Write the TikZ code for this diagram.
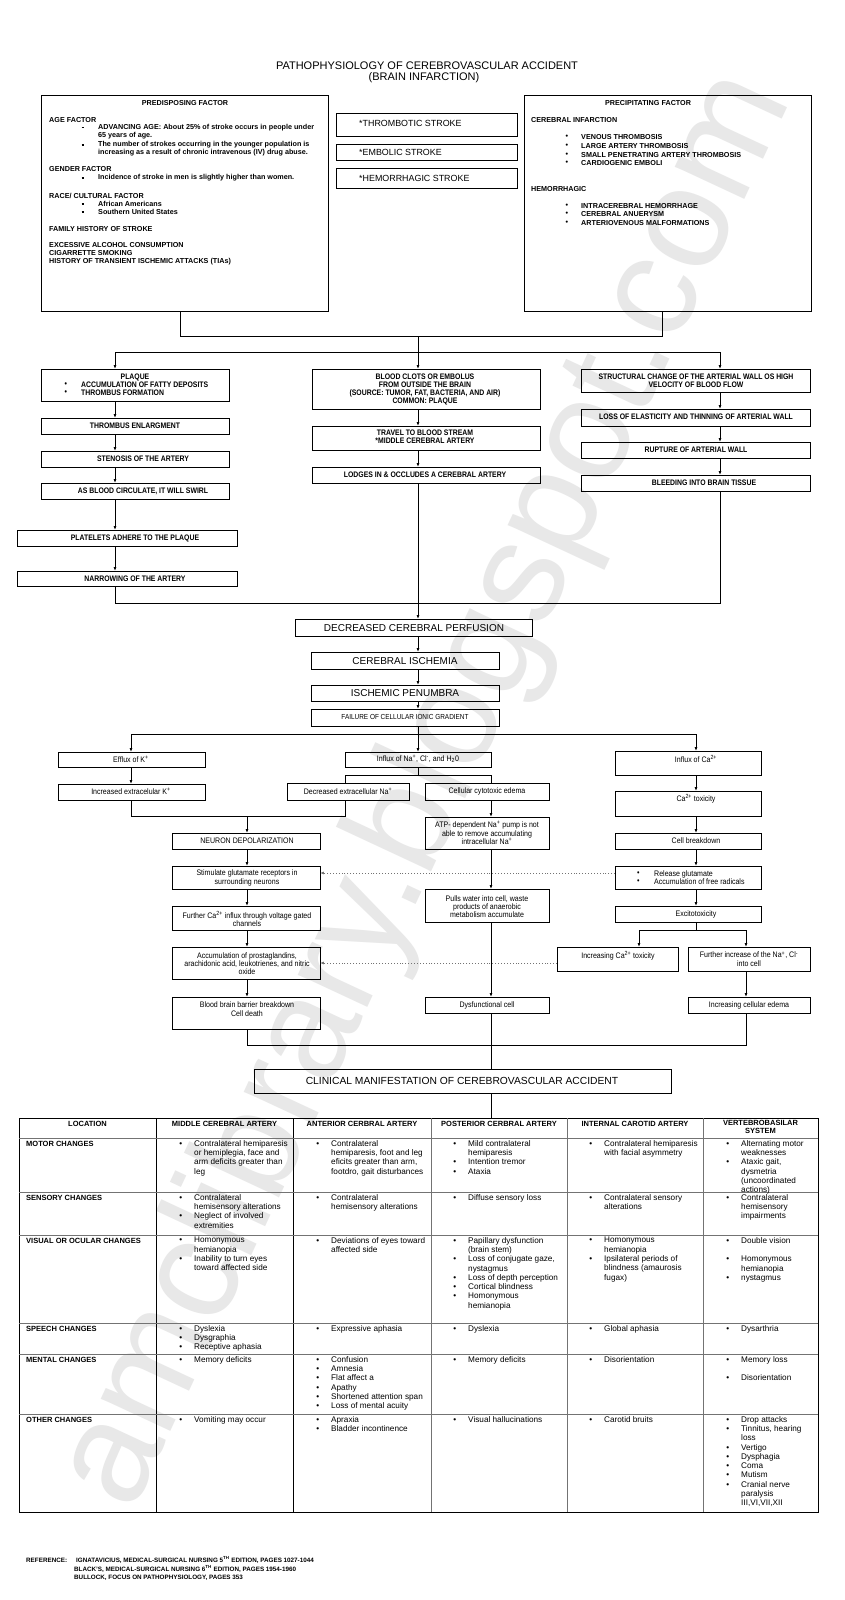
\documentclass[tikz,border=0pt]{standalone}
\usepackage{fontspec}
\setmainfont{Liberation Sans}
\newfontfamily\nar[FakeStretch=0.86]{Liberation Sans}
\newfontfamily\narr[FakeStretch=0.88]{Liberation Sans}
\usetikzlibrary{arrows.meta}
\newcounter{tn}
\newcommand\Tx[4][]{\stepcounter{tn}\node[#1] (t\arabic{tn}) at (#2,#3) {#4};}
\newcommand\Bx[5]{\node[bx, minimum width={#4-#2}, minimum height={#5-#3}] (#1) at (#2,#3) {};}
\newcommand\bul{\llap{\textbullet\hspace{12pt}}}
\newcommand\sqb{\rule[0.9pt]{2.6pt}{1.9pt}}
\begin{document}
\begin{tikzpicture}[x=1pt,y=-1pt,
 bx/.style={draw, line width=0.8pt, inner sep=0pt, outer sep=0pt, anchor=north west},
 ln/.style={line width=0.8pt},
 arr/.style={line width=0.8pt,-{Latex[length=3.8pt,width=2.8pt]}},
 dar/.style={line width=0.9pt, black!55, dotted, -{Latex[length=3.8pt,width=2.8pt]}},
 ttl/.style={font=\fontsize{11}{12}\selectfont, inner sep=0pt},
 stk/.style={font=\fontsize{8.9}{10}\selectfont, inner sep=0pt, anchor=west},
 tp/.style={font=\bfseries\fontsize{7.2}{8}\selectfont, inner sep=0pt, anchor=west},
 tpc/.style={tp, anchor=center},
 up/.style={font=\nar\bfseries\fontsize{8}{8}\selectfont, inner sep=0pt, align=center},
 upl/.style={up, anchor=west, align=left},
 lo/.style={font=\narr\fontsize{8}{8.3}\selectfont, inner sep=0pt, align=center},
 lol/.style={lo, anchor=west, align=left},
 big/.style={font=\fontsize{10}{12}\selectfont, inner sep=0pt},
 fl/.style={font=\narr\fontsize{7.3}{8}\selectfont, inner sep=0pt},
 cl/.style={font=\fontsize{10.3}{12}\selectfont, inner sep=0pt},
 th/.style={font=\bfseries\fontsize{7.5}{8}\selectfont, inner sep=0pt, align=center, anchor=north, execute at begin node=\strut},
 tl/.style={font=\bfseries\fontsize{7.5}{9.3}\selectfont, inner sep=0pt, anchor=north west, execute at begin node=\strut},
 tc/.style={font=\fontsize{8.2}{9.3}\selectfont, inner sep=0pt, align=left, anchor=north west, execute at begin node=\strut},
 rf/.style={font=\bfseries\fontsize{6.3}{8}\selectfont, inner sep=0pt, anchor=base west},
 wm/.style={font=\fontsize{145}{150}\selectfont, text=black!9, inner sep=0pt, rotate=65},
 tline/.style={line width=0.8pt, black!55}
]
\fill[white] (0,0) rectangle (844,1600);
\useasboundingbox (0,0) rectangle (844,1600);
\node[wm] (wmark) at (428,790) {amclibrary.blogspot.com};

% ---------- title ----------
\Tx[ttl]{427}{66}{PATHOPHYSIOLOGY OF CEREBROVASCULAR ACCIDENT}
\Tx[ttl]{424}{78}{(BRAIN INFARCTION)}

% ---------- top boxes ----------
\Bx{pre}{41}{95}{328}{311}
\Bx{prec}{524}{95}{811}{311}
\Bx{thr}{336}{113}{517}{136}
\Bx{emb}{336}{144}{517}{160}
\Bx{hem}{336}{168}{517}{188}
\Tx[stk]{359}{123.5}{*THROMBOTIC STROKE}
\Tx[stk]{359}{152.5}{*EMBOLIC STROKE}
\Tx[stk]{359}{178}{*HEMORRHAGIC STROKE}

\Tx[tpc]{185}{103}{PREDISPOSING FACTOR}
\Tx[tp]{49}{120}{AGE FACTOR}
\Tx[tp]{81.5}{128}{\sqb}
\Tx[tp]{98}{128}{ADVANCING AGE: About 25\% of stroke occurs in people under}
\Tx[tp]{98}{136}{65 years of age.}
\Tx[tp]{81.5}{145}{\sqb}
\Tx[tp]{98}{145}{The number of strokes occurring in the younger population is}
\Tx[tp]{98}{153}{increasing as a result of chronic intravenous (IV) drug abuse.}
\Tx[tp]{49}{169}{GENDER FACTOR}
\Tx[tp]{81.5}{178}{\sqb}
\Tx[tp]{98}{178}{Incidence of stroke in men is slightly higher than women.}
\Tx[tp]{49}{196}{RACE/ CULTURAL FACTOR}
\Tx[tp]{81.5}{204}{\sqb}
\Tx[tp]{98}{204}{African Americans}
\Tx[tp]{81.5}{212}{\sqb}
\Tx[tp]{98}{212}{Southern United States}
\Tx[tp]{49}{229}{FAMILY HISTORY OF STROKE}
\Tx[tp]{49}{245}{EXCESSIVE ALCOHOL CONSUMPTION}
\Tx[tp]{49}{253}{CIGARRETTE SMOKING}
\Tx[tp]{49}{262}{HISTORY OF TRANSIENT ISCHEMIC ATTACKS (TIAs)}

\Tx[tpc]{648}{103}{PRECIPITATING FACTOR}
\Tx[tp]{531}{120}{CEREBRAL INFARCTION}
\Tx[tp]{565.5}{137}{\textbullet}
\Tx[tp]{581}{137}{VENOUS THROMBOSIS}
\Tx[tp]{565.5}{146}{\textbullet}
\Tx[tp]{581}{146}{LARGE ARTERY THROMBOSIS}
\Tx[tp]{565.5}{155}{\textbullet}
\Tx[tp]{581}{155}{SMALL PENETRATING ARTERY THROMBOSIS}
\Tx[tp]{565.5}{163}{\textbullet}
\Tx[tp]{581}{163}{CARDIOGENIC EMBOLI}
\Tx[tp]{531}{189}{HEMORRHAGIC}
\Tx[tp]{565.5}{206}{\textbullet}
\Tx[tp]{581}{206}{INTRACEREBRAL HEMORRHAGE}
\Tx[tp]{565.5}{214}{\textbullet}
\Tx[tp]{581}{214}{CEREBRAL ANUERYSM}
\Tx[tp]{565.5}{223}{\textbullet}
\Tx[tp]{581}{223}{ARTERIOVENOUS MALFORMATIONS}

% ---------- column coordinates ----------
\coordinate (cL) at (115,0); \coordinate (cC) at (418,0); \coordinate (cR) at (720,0);
\coordinate (cP) at (180,0); \coordinate (cQ) at (662,0);
\coordinate (cK) at (131,0); \coordinate (cCa) at (696,0);
\coordinate (cN1) at (345,0); \coordinate (cN2) at (491,0);
\coordinate (cD) at (247,0); \coordinate (cI1) at (639,0); \coordinate (cI2) at (746,0);
\coordinate (h1) at (0,336); \coordinate (h2) at (0,352); \coordinate (h3) at (0,603);
\coordinate (h4) at (0,734); \coordinate (h5) at (0,775); \coordinate (h6) at (0,816);
\coordinate (h7) at (0,930); \coordinate (h8) at (0,1045);
\coordinate (yA) at (0,873); \coordinate (yB) at (0,963);

% ---------- upper flow ----------
\Bx{plq}{41.5}{369}{229}{401}
\Bx{thb}{41.5}{418}{229}{434}
\Bx{sten}{41.5}{451}{229}{467}
\Bx{swl}{41.5}{483}{229}{499}
\Bx{plt}{17}{530}{237}{546}
\Bx{nrw}{17}{571}{237}{586}
\Bx{clot}{312}{369}{540}{409}
\Bx{trv}{312}{426}{540}{450}
\Bx{ldg}{312}{467}{540}{483}
\Bx{str}{581}{369}{810}{392}
\Bx{los}{581}{409}{810}{426}
\Bx{rup}{581}{442}{810}{458}
\Bx{bld}{581}{475}{810}{491}

\Tx[up]{135}{377}{PLAQUE}
\Tx[upl]{64.5}{385}{\textbullet}
\Tx[upl]{81}{385}{ACCUMULATION OF FATTY DEPOSITS}
\Tx[upl]{64.5}{393}{\textbullet}
\Tx[upl]{81}{393}{THROMBUS FORMATION}
\Tx[up]{425}{389}{BLOOD CLOTS OR EMBOLUS\\FROM OUTSIDE THE BRAIN\\(SOURCE: TUMOR, FAT, BACTERIA, AND AIR)\\COMMON: PLAQUE}
\Tx[up]{696}{381}{STRUCTURAL CHANGE OF THE ARTERIAL WALL OS HIGH\\VELOCITY OF BLOOD FLOW}
\Tx[up]{135}{426}{THROMBUS ENLARGMENT}
\Tx[up]{143}{459}{STENOSIS OF THE ARTERY}
\Tx[up]{143}{491}{AS BLOOD CIRCULATE, IT WILL SWIRL}
\Tx[up]{135}{538}{PLATELETS ADHERE TO THE PLAQUE}
\Tx[up]{135}{579}{NARROWING OF THE ARTERY}
\Tx[up]{425}{437}{TRAVEL TO BLOOD STREAM\\*MIDDLE CEREBRAL ARTERY}
\Tx[up]{425}{475}{LODGES IN \& OCCLUDES A CEREBRAL ARTERY}
\Tx[up]{696}{417}{LOSS OF ELASTICITY AND THINNING OF ARTERIAL WALL}
\Tx[up]{696}{450}{RUPTURE OF ARTERIAL WALL}
\Tx[up]{704}{483}{BLEEDING INTO BRAIN TISSUE}

\draw[ln] (pre.south -| cP) -- (h1 -| cP) -- (h1 -| cQ) -- (prec.south -| cQ);
\draw[ln] (h1 -| cC) -- (h2 -| cC);
\draw[ln] (h2 -| cL) -- (h2 -| cR);
\draw[arr] (h2 -| cL) -- (plq.north -| cL);
\draw[arr] (h2 -| cC) -- (clot.north -| cC);
\draw[arr] (h2 -| cR) -- (str.north -| cR);
\draw[arr] (plq.south -| cL) -- (thb.north -| cL);
\draw[arr] (thb.south -| cL) -- (sten.north -| cL);
\draw[arr] (sten.south -| cL) -- (swl.north -| cL);
\draw[arr] (swl.south -| cL) -- (plt.north -| cL);
\draw[arr] (plt.south -| cL) -- (nrw.north -| cL);
\draw[arr] (clot.south -| cC) -- (trv.north -| cC);
\draw[arr] (trv.south -| cC) -- (ldg.north -| cC);
\draw[arr] (str.south -| cR) -- (los.north -| cR);
\draw[arr] (los.south -| cR) -- (rup.north -| cR);
\draw[arr] (rup.south -| cR) -- (bld.north -| cR);

% ---------- lower flow ----------
\Bx{dec}{295}{619}{532}{636}
\Bx{isc}{311}{652}{499}{669}
\Bx{pen}{311}{685}{499}{701}
\Bx{fail}{311}{709}{499}{726}
\Bx{efk}{58}{752}{205}{767}
\Bx{ina}{345}{752}{491}{767}
\Bx{ica}{615}{751}{761}{775}
\Bx{ink}{58}{784}{205}{800}
\Bx{dna}{287}{783}{409}{800}
\Bx{cyt}{425}{783}{549}{800}
\Bx{cat}{615}{791}{761}{816}
\Bx{atp}{425}{817}{549}{849}
\Bx{neu}{172}{833}{320}{849}
\Bx{cbk}{615}{833}{761}{849}
\Bx{stm}{172}{866}{320}{889}
\Bx{rel}{615}{866}{761}{889}
\Bx{pul}{425}{889}{549}{922}
\Bx{fca}{172}{906}{320}{930}
\Bx{exc}{615}{906}{761}{922}
\Bx{icb}{557}{947}{678}{971}
\Bx{fna}{688}{947}{810}{971}
\Bx{acc}{172}{947}{320}{979}
\Bx{bbb}{172}{997}{320}{1029}
\Bx{dys}{425}{997}{549}{1013}
\Bx{ede}{688}{997}{810}{1013}
\Bx{cln}{254}{1069}{671}{1093}

\Tx[big]{414}{628}{DECREASED CEREBRAL PERFUSION}
\Tx[big]{405}{661}{CEREBRAL ISCHEMIA}
\Tx[big]{405}{693.5}{ISCHEMIC PENUMBRA}
\Tx[fl]{405}{717}{FAILURE OF CELLULAR IONIC GRADIENT}
\Tx[lo]{131}{759}{Efflux of K\textsuperscript{+}}
\Tx[lo]{418}{759}{Influx of Na\textsuperscript{+}, Cl\textsuperscript{-}, and H\textsubscript{2}0}
\Tx[lo]{696}{759}{Influx of Ca\textsuperscript{2+}}
\Tx[lo]{131}{791}{Increased extracelular K\textsuperscript{+}}
\Tx[lo]{348}{791}{Decreased extracellular Na\textsuperscript{+}}
\Tx[lo]{487}{791}{Cellular cytotoxic edema}
\Tx[lo]{696}{799}{Ca\textsuperscript{2+} toxicity}
\Tx[lo]{487}{833}{ATP- dependent Na\textsuperscript{+} pump is not\\able to remove accumulating\\intracellular Na\textsuperscript{+}}
\Tx[lo]{247}{841}{NEURON DEPOLARIZATION}
\Tx[lo]{696}{841}{Cell breakdown}
\Tx[lo]{247}{878}{Stimulate glutamate receptors in\\surrounding neurons}
\Tx[lol]{637}{874}{\textbullet}
\Tx[lol]{654}{874}{Release glutamate}
\Tx[lol]{637}{882}{\textbullet}
\Tx[lol]{654}{882}{Accumulation of free radicals}
\Tx[lo]{487}{906.5}{Pulls water into cell, waste\\products of anaerobic\\metabolism accumulate}
\Tx[lo]{247}{919}{Further Ca\textsuperscript{2+} influx through voltage gated\\channels}
\Tx[lo]{696}{914.5}{Excitotoxicity}
\Tx[lo]{618}{956}{Increasing Ca\textsuperscript{2+} toxicity}
\Tx[lo]{749}{959}{Further increase of the Na\textsuperscript{+}, Cl\textsuperscript{-}\\into cell}
\Tx[lo]{247}{963.5}{Accumulation of prostaglandins,\\arachidonic acid, leukotrienes, and nitric\\oxide}
\Tx[lo]{247}{1009}{Blood brain barrier breakdown\\Cell death}
\Tx[lo]{487}{1005}{Dysfunctional cell}
\Tx[lo]{749}{1005}{Increasing cellular edema}
\Tx[cl]{462}{1081}{CLINICAL MANIFESTATION OF CEREBROVASCULAR ACCIDENT}

\draw[ln] (nrw.south -| cL) -- (h3 -| cL) -- (h3 -| cR) -- (bld.south -| cR);
\draw[arr] (ldg.south -| cC) -- (dec.north -| cC);
\draw[arr] (dec.south -| cC) -- (isc.north -| cC);
\draw[arr] (isc.south -| cC) -- (pen.north -| cC);
\draw[arr] (pen.south -| cC) -- (fail.north -| cC);
\draw[ln] (fail.south -| cC) -- (h4 -| cC);
\draw[ln] (h4 -| cK) -- (h4 -| cCa);
\draw[arr] (h4 -| cK) -- (efk.north -| cK);
\draw[arr] (h4 -| cC) -- (ina.north -| cC);
\draw[arr] (h4 -| cCa) -- (ica.north -| cCa);
\draw[arr] (efk.south -| cK) -- (ink.north -| cK);
\draw[ln] (ina.south -| cC) -- (h5 -| cC);
\draw[ln] (dna.north -| cN1) -- (h5 -| cN1) -- (h5 -| cN2) -- (cyt.north -| cN2);
\draw[arr] (ica.south -| cCa) -- (cat.north -| cCa);
\draw[ln] (ink.south -| cK) -- (h6 -| cK) -- (h6 -| cN1) -- (dna.south -| cN1);
\draw[arr] (h6 -| cD) -- (neu.north -| cD);
\draw[arr] (cyt.south -| cN2) -- (atp.north -| cN2);
\draw[arr] (cat.south -| cCa) -- (cbk.north -| cCa);
\draw[arr] (neu.south -| cD) -- (stm.north -| cD);
\draw[arr] (cbk.south -| cCa) -- (rel.north -| cCa);
\draw[dar] (rel.west |- yA) -- (stm.east |- yA);
\draw[arr] (atp.south -| cN2) -- (pul.north -| cN2);
\draw[arr] (stm.south -| cD) -- (fca.north -| cD);
\draw[arr] (rel.south -| cCa) -- (exc.north -| cCa);
\draw[ln] (exc.south -| cCa) -- (h7 -| cCa);
\draw[ln] (h7 -| cI1) -- (h7 -| cI2);
\draw[arr] (h7 -| cI1) -- (icb.north -| cI1);
\draw[arr] (h7 -| cI2) -- (fna.north -| cI2);
\draw[arr] (fca.south -| cD) -- (acc.north -| cD);
\draw[dar] (icb.west |- yB) -- (acc.east |- yB);
\draw[arr] (acc.south -| cD) -- (bbb.north -| cD);
\draw[arr] (pul.south -| cN2) -- (dys.north -| cN2);
\draw[arr] (fna.south -| cI2) -- (ede.north -| cI2);
\draw[ln] (bbb.south -| cD) -- (h8 -| cD) -- (h8 -| cI2) -- (ede.south -| cI2);
\draw[ln] (dys.south -| cN2) -- (cln.north -| cN2);

% ---------- table ----------
\Bx{tab}{19}{1118}{818}{1512}
\draw[ln] (cln.south -| cN2) -- (tab.north -| cN2);
\foreach \x/\c in {156/black, 293/black, 431/black!55, 567/black!55, 703/black!55}
  \draw[line width=0.8pt, draw=\c] (\x,1118) -- (\x,1512);
\foreach \y in {1138,1192,1235,1323,1354,1414}
  \draw[tline] (19,\y) -- (818,\y);

\Tx[th]{87.5}{1120.5}{LOCATION}
\Tx[th]{224.5}{1120.5}{MIDDLE CEREBRAL ARTERY}
\Tx[th]{362}{1120.5}{ANTERIOR CERBRAL ARTERY}
\Tx[th]{499}{1120.5}{POSTERIOR CERBRAL ARTERY}
\Tx[th]{635}{1120.5}{INTERNAL CAROTID ARTERY}
\Tx[th]{760.5}{1120.5}{VERTEBROBASILAR\\SYSTEM}

\Tx[tl]{26}{1140}{MOTOR CHANGES}
\Tx[tc]{194}{1140}{\bul Contralateral hemiparesis\\or hemiplegia, face and\\arm deficits greater than\\leg}
\Tx[tc]{331}{1140}{\bul Contralateral\\hemiparesis, foot and leg\\eficits greater than arm,\\footdro, gait disturbances}
\Tx[tc]{468}{1140}{\bul Mild contralateral\\hemiparesis\\\bul Intention tremor\\\bul Ataxia}
\Tx[tc]{604}{1140}{\bul Contralateral hemiparesis\\with facial asymmetry}
\Tx[tc]{741}{1140}{\bul Alternating motor\\weaknesses\\\bul Ataxic gait,\\dysmetria\\(uncoordinated\\actions)}

\Tx[tl]{26}{1194}{SENSORY CHANGES}
\Tx[tc]{194}{1194}{\bul Contralateral\\hemisensory alterations\\\bul Neglect of involved\\extremities}
\Tx[tc]{331}{1194}{\bul Contralateral\\hemisensory alterations}
\Tx[tc]{468}{1194}{\bul Diffuse sensory loss}
\Tx[tc]{604}{1194}{\bul Contralateral sensory\\alterations}
\Tx[tc]{741}{1194}{\bul Contralateral\\hemisensory\\impairments}

\Tx[tl]{26}{1237}{VISUAL OR OCULAR CHANGES}
\Tx[tc]{194}{1237}{\bul Homonymous\\hemianopia\\\bul Inability to turn eyes\\toward affected side}
\Tx[tc]{331}{1237}{\bul Deviations of eyes toward\\affected side}
\Tx[tc]{468}{1237}{\bul Papillary dysfunction\\(brain stem)\\\bul Loss of conjugate gaze,\\nystagmus\\\bul Loss of depth perception\\\bul Cortical blindness\\\bul Homonymous\\hemianopia}
\Tx[tc]{604}{1237}{\bul Homonymous\\hemianopia\\\bul Ipsilateral periods of\\blindness (amaurosis\\fugax)}
\Tx[tc]{741}{1237}{\bul Double vision\\[9.3pt]\bul Homonymous\\hemianopia\\\bul nystagmus}

\Tx[tl]{26}{1325}{SPEECH CHANGES}
\Tx[tc]{194}{1325}{\bul Dyslexia\\\bul Dysgraphia\\\bul Receptive aphasia}
\Tx[tc]{331}{1325}{\bul Expressive aphasia}
\Tx[tc]{468}{1325}{\bul Dyslexia}
\Tx[tc]{604}{1325}{\bul Global aphasia}
\Tx[tc]{741}{1325}{\bul Dysarthria}

\Tx[tl]{26}{1356}{MENTAL CHANGES}
\Tx[tc]{194}{1356}{\bul Memory deficits}
\Tx[tc]{331}{1356}{\bul Confusion\\\bul Amnesia\\\bul Flat affect a\\\bul Apathy\\\bul Shortened attention span\\\bul Loss of mental acuity}
\Tx[tc]{468}{1356}{\bul Memory deficits}
\Tx[tc]{604}{1356}{\bul Disorientation}
\Tx[tc]{741}{1356}{\bul Memory loss\\[9.3pt]\bul Disorientation}

\Tx[tl]{26}{1416}{OTHER CHANGES}
\Tx[tc]{194}{1416}{\bul Vomiting may occur}
\Tx[tc]{331}{1416}{\bul Apraxia\\\bul Bladder incontinence}
\Tx[tc]{468}{1416}{\bul Visual hallucinations}
\Tx[tc]{604}{1416}{\bul Carotid bruits}
\Tx[tc]{741}{1416}{\bul Drop attacks\\\bul Tinnitus, hearing\\loss\\\bul Vertigo\\\bul Dysphagia\\\bul Coma\\\bul Mutism\\\bul Cranial nerve\\paralysis\\III,VI,VII,XII}

% ---------- reference ----------
\Tx[rf]{26}{1562}{REFERENCE:}
\Tx[rf]{76}{1562}{IGNATAVICIUS, MEDICAL-SURGICAL NURSING 5\textsuperscript{TH} EDITION, PAGES 1027-1044}
\Tx[rf]{74}{1571}{BLACK'S, MEDICAL-SURGICAL NURSING 6\textsuperscript{TH} EDITION, PAGES 1954-1960}
\Tx[rf]{74}{1579}{BULLOCK, FOCUS ON PATHOPHYSIOLOGY, PAGES 353}
\end{tikzpicture}
\end{document}
